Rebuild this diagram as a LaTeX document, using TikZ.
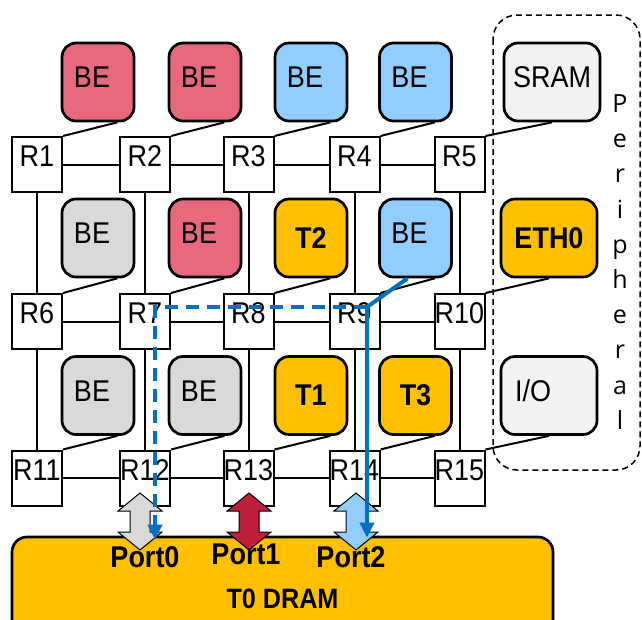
\documentclass[tikz,border=0pt]{standalone}
\usepackage{fontspec}
\setmainfont[FakeStretch=0.9]{Liberation Sans}
\newfontfamily\perifont{Open Sans}
\usetikzlibrary{arrows.meta}
\definecolor{bered}{RGB}{232,105,126}
\definecolor{beblue}{RGB}{145,205,255}
\definecolor{begrey}{RGB}{217,217,217}
\definecolor{taskyellow}{RGB}{255,192,0}
\definecolor{perigrey}{RGB}{242,242,242}
\definecolor{portred}{RGB}{192,30,58}
\definecolor{flowblue}{RGB}{0,112,192}
\tikzset{
  router/.style={draw, line width=2pt, fill=white, minimum width=50pt, minimum height=55pt,
    inner sep=0pt, text depth=16pt, font=\fontsize{30}{30}\selectfont},
  tile/.style={draw, line width=2.7pt, rounded corners=14pt, minimum width=72pt,
    minimum height=78pt, inner sep=0pt, text depth=9pt, font=\fontsize{30}{30}\selectfont},
  tasktile/.style={tile, fill=taskyellow, text depth=0pt, font=\fontsize{30}{30}\selectfont\bfseries},
  peri/.style={tile, minimum width=96pt},
  mesh/.style={line width=2pt},
  peribox/.style={line width=1.5pt, dashed, dash pattern=on 6pt off 4pt, rounded corners=24pt},
  dram/.style={draw, line width=2.7pt, fill=taskyellow, rounded corners=15pt, minimum width=541pt,
    minimum height=124pt, inner sep=0pt, font=\fontsize{28}{28}\selectfont\bfseries},
  portarrow/.style={draw, line width=1pt},
  portlabel/.style={inner sep=0pt, font=\fontsize{30}{30}\selectfont\bfseries},
  flowsolid/.style={flowblue, line width=4pt, -{Triangle[length=15pt, width=14pt]}},
  flowdashed/.style={flowsolid, dash pattern=on 13pt off 8pt}
}
\begin{document}
\begin{tikzpicture}[x=1pt, y=-1pt]
  \clip (0,0) rectangle (642,619);
  % ---------- routers ----------
  \node[router] (R1) at (37,164.5) {R1};
  \node[router] (R2) at (145,164.5) {R2};
  \node[router] (R3) at (248.5,164.5) {R3};
  \node[router] (R4) at (354.5,164.5) {R4};
  \node[router] (R5) at (459.5,164.5) {R5};
  \node[router] (R6) at (37,321.5) {R6};
  \node[router] (R7) at (145,321.5) {R7};
  \node[router] (R8) at (248.5,321.5) {R8};
  \node[router] (R9) at (354.5,321.5) {R9};
  \node[router] (R10) at (459.5,321.5) {R10};
  \node[router] (R11) at (37,478) {R11};
  \node[router] (R12) at (145,478) {R12};
  \node[router] (R13) at (248.5,478) {R13};
  \node[router] (R14) at (354.5,478) {R14};
  \node[router] (R15) at (459.5,478) {R15};
  \draw[mesh] (R1) -- (R2) -- (R3) -- (R4) -- (R5);
  \draw[mesh] (R6) -- (R7) -- (R8) -- (R9) -- (R10);
  \draw[mesh] (R11) -- (R12) -- (R13) -- (R14) -- (R15);
  \draw[mesh] (R1) -- (R6) -- (R11);
  \draw[mesh] (R2) -- (R7) -- (R12);
  \draw[mesh] (R3) -- (R8) -- (R13);
  \draw[mesh] (R4) -- (R9) -- (R14);
  \draw[mesh] (R5) -- (R10) -- (R15);
  % ---------- tiles ----------
  \node[tile, fill=bered] (be1) at (98,82) {BE\kern12pt};
  \node[tile, fill=bered] (be2) at (205,82) {BE\kern12pt};
  \node[tile, fill=beblue] (be3) at (311,82) {BE\kern12pt};
  \node[tile, fill=beblue] (be4) at (415.5,82) {BE\kern12pt};
  \node[tile, fill=begrey] (be6) at (98,238) {BE\kern12pt};
  \node[tile, fill=bered] (be7) at (205,238) {BE\kern12pt};
  \node[tasktile] (t2) at (311,238) {T2};
  \node[tile, fill=beblue] (be9) at (415.5,238) {BE\kern12pt};
  \node[tile, fill=begrey] (be11) at (98,395.5) {BE\kern12pt};
  \node[tile, fill=begrey] (be12) at (205,395.5) {BE\kern12pt};
  \node[tasktile] (t1) at (311,395.5) {T1};
  \node[tasktile] (t3) at (415.5,395.5) {T3};
  \draw[mesh] (R1.north east) -- ([xshift=-18pt]be1.south east);
  \draw[mesh] (R2.north east) -- ([xshift=-18pt]be2.south east);
  \draw[mesh] (R3.north east) -- ([xshift=-18pt]be3.south east);
  \draw[mesh] (R4.north east) -- ([xshift=-18pt]be4.south east);
  \draw[mesh] (R6.north east) -- ([xshift=-18pt]be6.south east);
  \draw[mesh] (R7.north east) -- ([xshift=-18pt]be7.south east);
  \draw[mesh] (R8.north east) -- ([xshift=-18pt]t2.south east);
  \draw[mesh] (R9.north east) -- ([xshift=-18pt]be9.south east);
  \draw[mesh] (R11.north east) -- ([xshift=-18pt]be11.south east);
  \draw[mesh] (R12.north east) -- ([xshift=-18pt]be12.south east);
  \draw[mesh] (R13.north east) -- ([xshift=-18pt]t1.south east);
  \draw[mesh] (R14.north east) -- ([xshift=-18pt]t3.south east);
  % ---------- peripheral ----------
  \draw[peribox] (493,15) rectangle (640,470);
  \node[peri, fill=perigrey] (sram) at (552,82) {SRAM};
  \node[peri, fill=taskyellow, text depth=0pt, font=\fontsize{30}{30}\selectfont\bfseries] (eth0) at (549,238) {ETH0};
  \node[peri, fill=perigrey] (io) at (549,395.5) {I/O\kern32pt};
  \draw[mesh] (R5.north east) -- (sram.south);
  \draw[mesh] (R10.north east) -- (eth0.south);
  \draw[mesh] (R15.north east) -- (io.south);
  \node[align=center, font=\perifont\fontsize{25}{35.2}\selectfont] (perilbl) at (620,262)
    {P\\e\\r\\i\\p\\h\\e\\r\\a\\l};
  % ---------- DRAM and ports ----------
  \node[dram] (dram) at (282.5,599) {T0 DRAM};
  \foreach \px/\pc in {140/begrey, 249/portred, 356/beblue}
    \draw[portarrow, fill=\pc, shift={(\px,521.5)}] (0,-28.5) -- (22,-10.5) -- (10,-10.5)
      -- (10,10.5) -- (22,10.5) -- (0,28.5) -- (-22,10.5) -- (-10,10.5) -- (-10,-10.5)
      -- (-22,-10.5) -- cycle;
  \node[portlabel] (port0lbl) at (145,557) {Port0};
  \node[portlabel] (port1lbl) at (246,554) {Port1};
  \node[portlabel] (port2lbl) at (351,557) {Port2};
  % ---------- traffic ----------
  \coordinate (jn) at (367,307);
  \coordinate (bend) at (155,307);
  \draw[flowsolid] ([xshift=-8pt]be9.south) -- (jn) -- ([yshift=-2pt]jn |- dram.north);
  \draw[flowdashed] (jn) -- (bend) -- ([yshift=-4pt]bend |- dram.north);
\end{tikzpicture}
\end{document}
